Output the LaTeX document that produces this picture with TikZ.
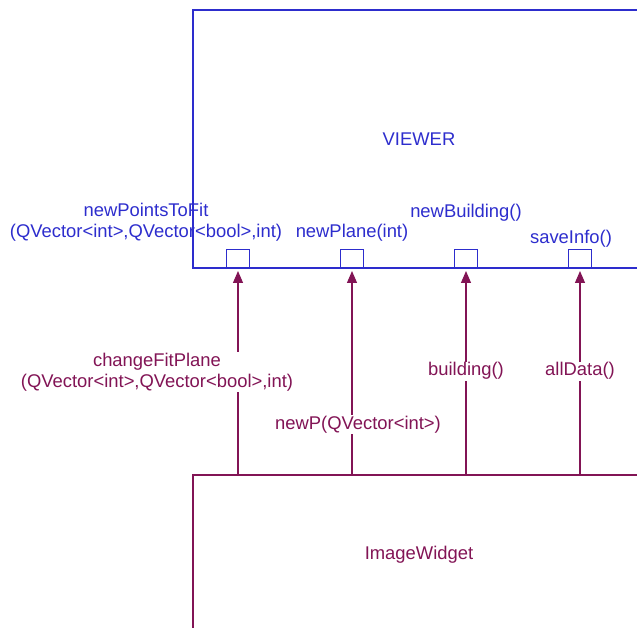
\documentclass[tikz,border=0pt]{standalone}
\usepackage{fontspec}
\setmainfont{Liberation Sans}
\usetikzlibrary{arrows.meta}
\definecolor{viewblue}{RGB}{45,45,205}
\definecolor{sigred}{RGB}{130,20,85}

\begin{document}
\begin{tikzpicture}[x=1pt,y=-1pt,
    lbl/.style={font=\fontsize{18.4}{21}\selectfont, align=center, inner sep=1pt},
    slot/.style={draw=viewblue, line width=1.2pt, minimum width=23pt, minimum height=18pt, inner sep=0pt, anchor=south},
    sig/.style={-{Triangle[length=12pt,width=10pt]}, draw=sigred, line width=1.2pt, shorten >=3pt},
    siglbl/.style={lbl, fill=white, text=sigred}]

    \useasboundingbox (0,0) rectangle (637,628);
    \clip (0,0) rectangle (637,628);

    % Viewer
    \node[lbl, draw=viewblue, line width=1.2pt, minimum width=452pt, minimum height=258pt, text=viewblue] (viewer) at (419,139) {VIEWER};
    % Ranuras
    \node[slot] (slotfit) at (238,268) {};
    \node[slot] (slotplane) at (352,268) {};
    \node[slot] (slotbuild) at (466,268) {};
    \node[slot] (slotsave) at (580,268) {};
    % Slots
    \node[lbl, text=viewblue] (fitname) at (146,222) {newPointsToFit\\(QVector<int>,QVector<bool>,int)};
    \node[lbl, text=viewblue] (planename) at (352,233) {newPlane(int)};
    \node[lbl, text=viewblue] (buildname) at (466,213) {newBuilding()};
    \node[lbl, text=viewblue] (savename) at (571,239) {saveInfo()};

    % ImageWidget
    \node[lbl, draw=sigred, line width=1.2pt, minimum width=452pt, minimum height=160pt, text=sigred] (widget) at (419,555) {ImageWidget};

    % Signals
    \draw[sig] (slotfit |- widget.north) -- (slotfit.south);
    \node[siglbl] (fitsig) at (157,372) {changeFitPlane\\(QVector<int>,QVector<bool>,int)};
    \draw[sig] (slotplane |- widget.north) -- (slotplane.south) node[siglbl, pos=0.24, xshift=6pt] (planesig) {newP(QVector<int>)};
    \draw[sig] (slotbuild |- widget.north) -- (slotbuild.south) node[siglbl, pos=0.5] (buildsig) {building()};
    \draw[sig] (slotsave |- widget.north) -- (slotsave.south) node[siglbl, pos=0.5] (savesig) {allData()};
\end{tikzpicture}
\end{document}
